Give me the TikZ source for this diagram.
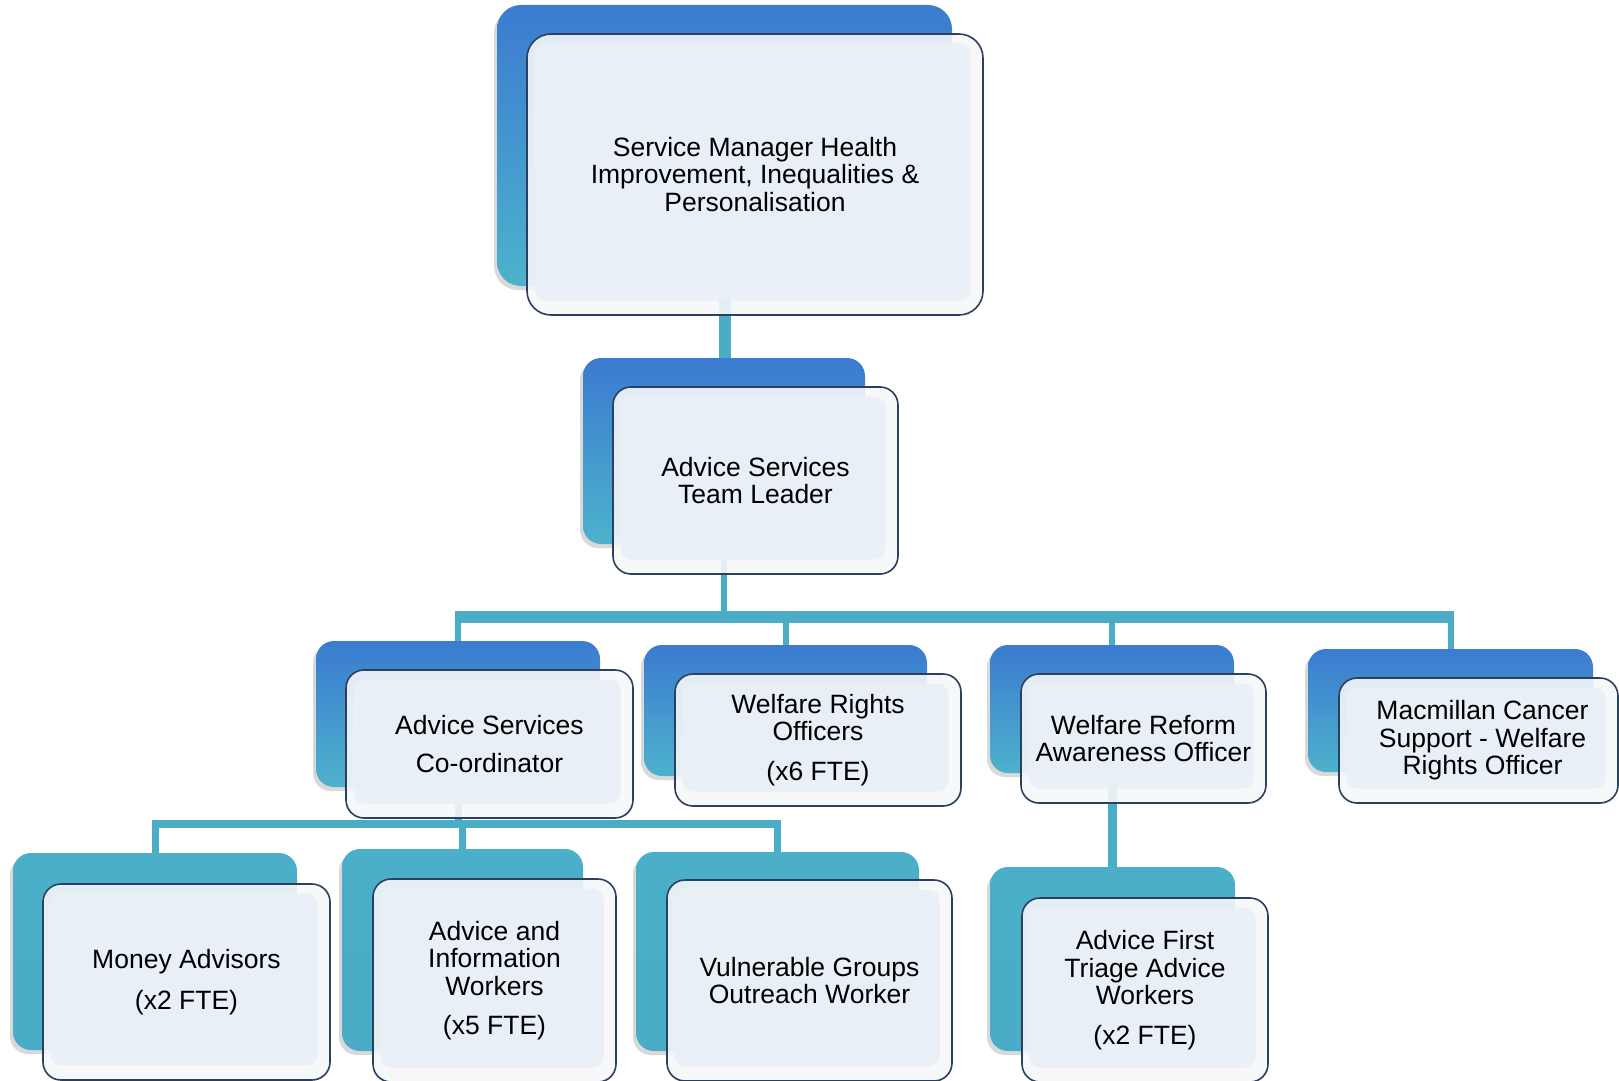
\documentclass[tikz,border=0pt]{standalone}
\usepackage{fontspec}
\setmainfont{Liberation Sans}
\usetikzlibrary{calc,shadows}
\definecolor{conncol}{HTML}{4BACC6}
\definecolor{bluetop}{HTML}{3B7BD0}
\definecolor{bluebot}{HTML}{4DB2CC}
\definecolor{tealtop}{HTML}{4BAFC9}
\definecolor{tealbot}{HTML}{4AACC6}
\definecolor{navy}{HTML}{2B3F5E}
\definecolor{outerfill}{HTML}{F5F7FA}
\definecolor{innerfill}{HTML}{E9F0F7}
\pgfdeclarelayer{bg}
\pgfsetlayers{bg,main}
\begin{document}
\begin{tikzpicture}[x=1pt,y=-1pt,
  backbox/.style={rounded corners=18pt, top color=bluetop, middle color=bluetop!88!bluebot, bottom color=bluebot,
    drop shadow={shadow xshift=-3pt,shadow yshift=-4pt,opacity=0.3}},
  backteal/.style={backbox, top color=tealtop, middle color=tealtop, bottom color=tealbot},
  frontbox/.style={draw=navy, line width=1.6pt, rounded corners=18pt, fill=outerfill, fill opacity=0.9,
    text opacity=1, align=center, inner sep=0pt, font=\fontsize{26.5}{27.5}\selectfont,
    path picture={\fill[innerfill, draw=black!6, line width=1pt, rounded corners=10pt]
      ($(path picture bounding box.north west)+(8,10)$) rectangle
      ($(path picture bounding box.south east)+(-13,-15)$);}},
  conn/.style={draw=conncol, line cap=butt},
]
\useasboundingbox (0,0) rectangle (1619,1081);

% level 1
\node[backbox, rounded corners=24pt, minimum width=455pt, minimum height=281pt] (topB) at (724.5,145.5) {};
\node[frontbox, rounded corners=24pt, minimum width=456pt, minimum height=281pt] (top) at (755,174.5)
  {Service Manager Health\\Improvement, Inequalities \&\\Personalisation};

% level 2
\node[backbox, minimum width=282pt, minimum height=186pt] (tlB) at (724,451) {};
\node[frontbox, minimum width=285pt, minimum height=187pt] (tl) at (755.5,480.5)
  {Advice Services\\Team Leader};

% level 3
\node[backbox, minimum width=284pt, minimum height=146pt] (coB) at (458,714) {};
\node[frontbox, minimum width=287pt, minimum height=148pt] (co) at (489.5,744)
  {Advice Services\\[11pt]Co-ordinator};

\node[backbox, minimum width=283pt, minimum height=131pt] (wroB) at (785.5,710.5) {};
\node[frontbox, minimum width=286pt, minimum height=132pt] (wro) at (818,740)
  {Welfare Rights\\Officers\\[12pt](x6 FTE)};

\node[backbox, minimum width=244pt, minimum height=128pt] (wraB) at (1112,709) {};
\node[frontbox, minimum width=245pt, minimum height=129pt] (wra) at (1143.5,738.5)
  {Welfare Reform\\Awareness Officer};

\node[backbox, minimum width=285pt, minimum height=123pt] (macB) at (1450.5,710.5) {};
\node[frontbox, minimum width=279pt, minimum height=125pt] (mac) at (1478.5,740.5)
  {\hspace*{8pt}Macmillan Cancer\\\hspace*{8pt}Support - Welfare\\\hspace*{8pt}Rights Officer};

% level 4
\node[backteal, minimum width=284pt, minimum height=197pt] (moneyB) at (155,951.5) {};
\node[frontbox, minimum width=287pt, minimum height=196pt] (money) at (186.5,982)
  {Money Advisors\\[13pt](x2 FTE)};

\node[backteal, minimum width=241pt, minimum height=202pt] (aiB) at (462.5,950) {};
\node[frontbox, minimum width=243pt, minimum height=203pt] (ai) at (494.5,980.5)
  {Advice and\\Information\\Workers\\[12pt](x5 FTE)};

\node[backteal, minimum width=283pt, minimum height=199pt] (vulB) at (777.5,951.5) {};
\node[frontbox, minimum width=285pt, minimum height=201pt] (vul) at (809.5,980.5)
  {Vulnerable Groups\\Outreach Worker};

\node[backteal, minimum width=245pt, minimum height=184pt] (triB) at (1112.5,959) {};
\node[frontbox, minimum width=246pt, minimum height=184pt] (tri) at (1145,990)
  {Advice First\\Triage Advice\\Workers\\[12pt](x2 FTE)};

\coordinate (bar1) at (0,617);
\coordinate (bar2) at (0,824);

\begin{pgfonlayer}{bg}
  \draw[conn, line width=12pt] (topB.south) -- (topB.south |- tlB.north);
  \draw[conn, line width=6pt] (tlB.south) -- (tlB.south |- bar1);
  \draw[conn, line width=12pt] ($(coB.north |- bar1)+(-3,0)$) -- ($(macB.north |- bar1)+(3,0)$);
  \draw[conn, line width=6pt] (coB.north |- bar1) -- (coB.north);
  \draw[conn, line width=6pt] (wroB.north |- bar1) -- (wroB.north);
  \draw[conn, line width=6pt] (wraB.north |- bar1) -- (wraB.north);
  \draw[conn, line width=6pt] (macB.north |- bar1) -- (macB.north);
  \draw[conn, line width=7pt] (coB.south) -- (coB.south |- bar2);
  \draw[conn, line width=8pt] ($(moneyB.north |- bar2)+(-3.5,0)$) -- ($(vulB.north |- bar2)+(3.5,0)$);
  \draw[conn, line width=7pt] (moneyB.north |- bar2) -- (moneyB.north);
  \draw[conn, line width=7pt] (aiB.north |- bar2) -- (aiB.north);
  \draw[conn, line width=7pt] (vulB.north |- bar2) -- (vulB.north);
  \draw[conn, line width=9pt] (wraB.south) -- (wraB.south |- triB.north);
\end{pgfonlayer}
\end{tikzpicture}
\end{document}
